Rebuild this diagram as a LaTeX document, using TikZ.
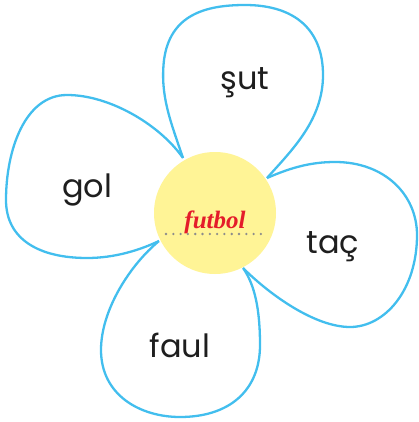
\documentclass[tikz,border=0pt]{standalone}
\usepackage{fontspec}
\setmainfont{Poppins}
\newfontfamily\titlefont{Liberation Serif}
\usepackage{tikz}
\usepackage{xcolor}
\definecolor{petalblue}{RGB}{66,190,238}
\definecolor{coreyellow}{RGB}{255,244,150}
\definecolor{titlered}{RGB}{228,28,42}
\definecolor{dotgray}{RGB}{140,140,140}
\definecolor{inkblack}{RGB}{30,30,30}

\begin{document}
\begin{tikzpicture}[x=1pt, y=1pt,
    petal/.style={draw=petalblue, line width=2.3pt, fill=white, line join=round},
    word/.style={font=\fontsize{32}{38}\selectfont, text=inkblack}]
    \useasboundingbox (0,0) rectangle (418,-422);

    % top petal
    \draw[petal] (183,-158) .. controls (170,-120) and (160,-95) .. (164,-60)
        .. controls (170,-15) and (205,-5) .. (245,-5)
        .. controls (295,-5) and (323,-30) .. (323,-75)
        .. controls (323,-120) and (292,-150) .. (267,-178);

    % left petal
    \draw[petal] (183,-158) .. controls (160,-125) and (110,-95) .. (67,-95)
        .. controls (25,-95) and (6,-150) .. (6,-200)
        .. controls (6,-240) and (40,-258) .. (87,-258)
        .. controls (115,-258) and (140,-250) .. (159,-241);

    % right petal
    \draw[petal] (267,-178) .. controls (290,-168) and (310,-162) .. (335,-162)
        .. controls (385,-162) and (417,-195) .. (417,-235)
        .. controls (417,-290) and (385,-327) .. (350,-327)
        .. controls (315,-327) and (270,-295) .. (243,-268);

    % bottom petal
    \draw[petal] (159,-241) .. controls (130,-265) and (101,-310) .. (101,-350)
        .. controls (101,-395) and (140,-417) .. (180,-417)
        .. controls (230,-417) and (260,-390) .. (260,-345)
        .. controls (260,-310) and (255,-285) .. (243,-268);

    % centre
    \node[circle, fill=coreyellow, minimum size=122pt, inner sep=0pt] (core) at (215,-213) {};
    \node[font=\titlefont\bfseries\itshape\fontsize{25}{28}\selectfont, text=titlered] (title) at (215,-222) {futbol};
    \coordinate (dotl) at (166,-234);
    \coordinate (dotr) at (268,-234);
    \draw[dotgray, line width=2.6pt, line cap=round, dash pattern=on 0pt off 7.3pt] (dotl) -- (dotr);

    % words
    \node[word] (sut) at (245,-83) {şut};
    \node[word] (gol) at (87,-190) {gol};
    \node[word] (tac) at (333,-247) {taç};
    \node[word] (faul) at (180,-345) {faul};
\end{tikzpicture}
\end{document}
